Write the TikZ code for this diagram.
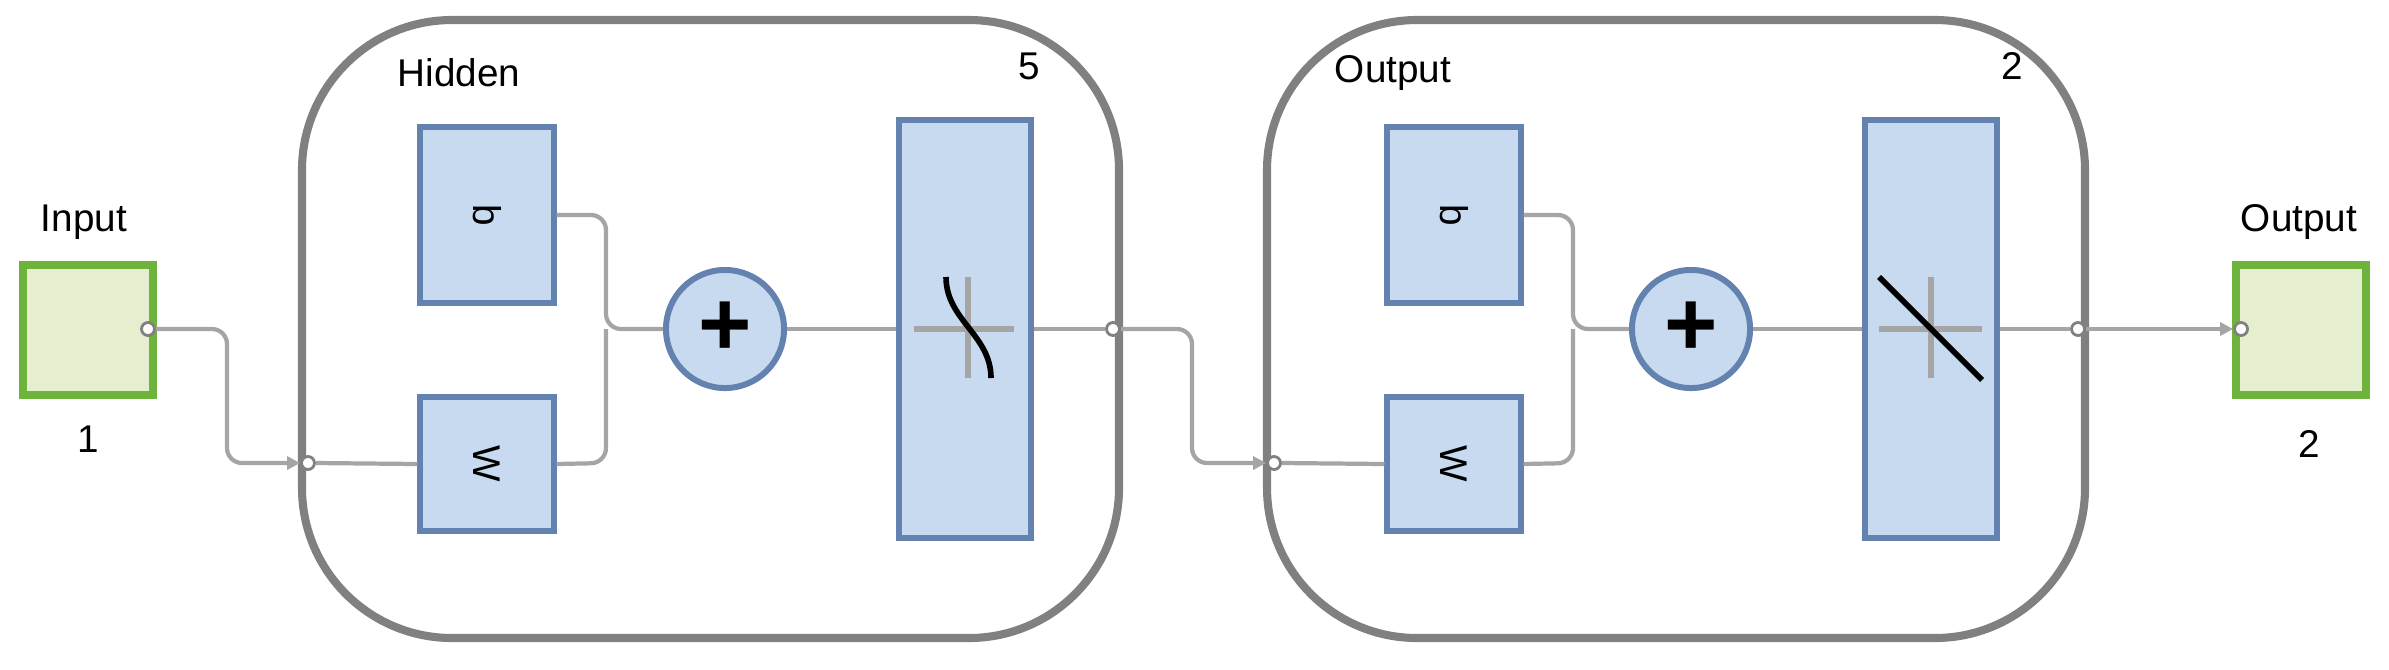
\documentclass[tikz,border=0pt]{standalone}
\usepackage{fontspec}
\setmainfont{Liberation Sans}
\usetikzlibrary{arrows.meta}
\definecolor{lgray}{RGB}{128,128,128}
\definecolor{cgray}{RGB}{165,165,165}
\definecolor{bfill}{RGB}{199,218,240}
\definecolor{bdraw}{RGB}{100,130,175}
\definecolor{gfill}{RGB}{230,238,208}
\definecolor{gdraw}{RGB}{110,180,60}
\begin{document}
\begin{tikzpicture}[x=0.01cm,y=-0.01cm,
  layer/.style={draw=lgray,line width=2.3pt,rounded corners=1.5cm,fill=white},
  blk/.style={draw=bdraw,fill=bfill,line width=1.7pt,inner sep=0pt},
  io/.style={draw=gdraw,fill=gfill,line width=2.3pt,inner sep=0pt,minimum width=1.3cm,minimum height=1.3cm},
  port/.style={circle,draw=lgray,fill=white,line width=0.8pt,inner sep=0pt,minimum size=0.13cm},
  conn/.style={draw=cgray,line width=1.2pt,rounded corners=0.15cm},
  tip/.style={-{Triangle[length=0.13cm,width=0.13cm]}},
  lbl/.style={font=\fontsize{11}{13}\selectfont,inner sep=0pt}]
\useasboundingbox (0,0) rectangle (2389,669);
% layer frames
\draw[layer] (302,20) rectangle (1119,638);
\draw[layer] (1267,20) rectangle (2085,638);
\node[lbl] (hl) at (459,73) {Hidden};
\node[lbl] (hn) at (1029,66) {5};
\node[lbl] (ol) at (1393,73) {Output};
\node[lbl] (on) at (2012,66) {2};
% input/output
\node[io] (in) at (88,330) {};
\node[lbl] (inl) at (84,222) {Input};
\node[lbl] (inn) at (88,439) {1};
\node[io] (out) at (2301,330) {};
\node[lbl] (outl) at (2299,222) {Output};
\node[lbl] (outn) at (2309,444) {2};
% hidden blocks
\node[blk,minimum width=1.33cm,minimum height=1.75cm] (b1) at (487,215) {\rotatebox{-90}{\fontsize{11}{13}\selectfont b}};
\node[blk,minimum width=1.33cm,minimum height=1.34cm] (w1) at (487,464) {\rotatebox{-90}{\fontsize{11}{13}\selectfont W}};
\node[blk,circle,minimum size=1.18cm] (s1) at (725,329) {\fontsize{26}{26}\selectfont\bfseries +};
\node[blk,minimum width=1.32cm,minimum height=4.17cm] (f1) at (965,329) {};
% output blocks
\node[blk,minimum width=1.33cm,minimum height=1.75cm] (b2) at (1454,215) {\rotatebox{-90}{\fontsize{11}{13}\selectfont b}};
\node[blk,minimum width=1.33cm,minimum height=1.34cm] (w2) at (1454,464) {\rotatebox{-90}{\fontsize{11}{13}\selectfont W}};
\node[blk,circle,minimum size=1.18cm] (s2) at (1691,329) {\fontsize{26}{26}\selectfont\bfseries +};
\node[blk,minimum width=1.32cm,minimum height=4.17cm] (f2) at (1931,329) {};
% transfer symbols
\draw[cgray,line width=1.6pt] (914,329) -- (1014,329) (968,277) -- (968,378);
\draw[black,line width=1.6pt] (946,277) .. controls (946,320) and (991,335) .. (991,378);
\draw[cgray,line width=1.6pt] (1879,329) -- (1982,329) (1931,277) -- (1931,378);
\draw[black,line width=1.6pt] (1879,277) -- (1982,380);
% ports
\node[port] (pin) at (148,329) {};
\node[port] (hp) at (308,463) {};
\node[port] (ho) at (1113,329) {};
\node[port] (op) at (1274,463) {};
\node[port] (oo) at (2078,329) {};
\node[port] (po) at (2241,329) {};
\coordinate (j1) at (606,329);
\coordinate (j2) at (1573,329);
% connectors
\draw[conn,tip] (pin.east) -- (227,329) -- (227,463) -- (hp.west);
\draw[conn] (hp.east) -- (w1.west);
\draw[conn] (b1.east |- 0,215) -- (606,215) -- (606,329) -- (s1.west);
\draw[conn] (w1.east) -- (606,463) -- (606,329);
\draw[conn] (s1.east) -- (f1.west);
\draw[conn] (f1.east) -- (ho.west);
\draw[conn,tip] (ho.east) -- (1192,329) -- (1192,463) -- (op.west);
\draw[conn] (op.east) -- (w2.west);
\draw[conn] (b2.east |- 0,215) -- (1573,215) -- (1573,329) -- (s2.west);
\draw[conn] (w2.east) -- (1573,463) -- (1573,329);
\draw[conn] (s2.east) -- (f2.west);
\draw[conn] (f2.east) -- (oo.west);
\draw[conn,tip] (oo.east) -- (po.west);
\end{tikzpicture}
\end{document}
